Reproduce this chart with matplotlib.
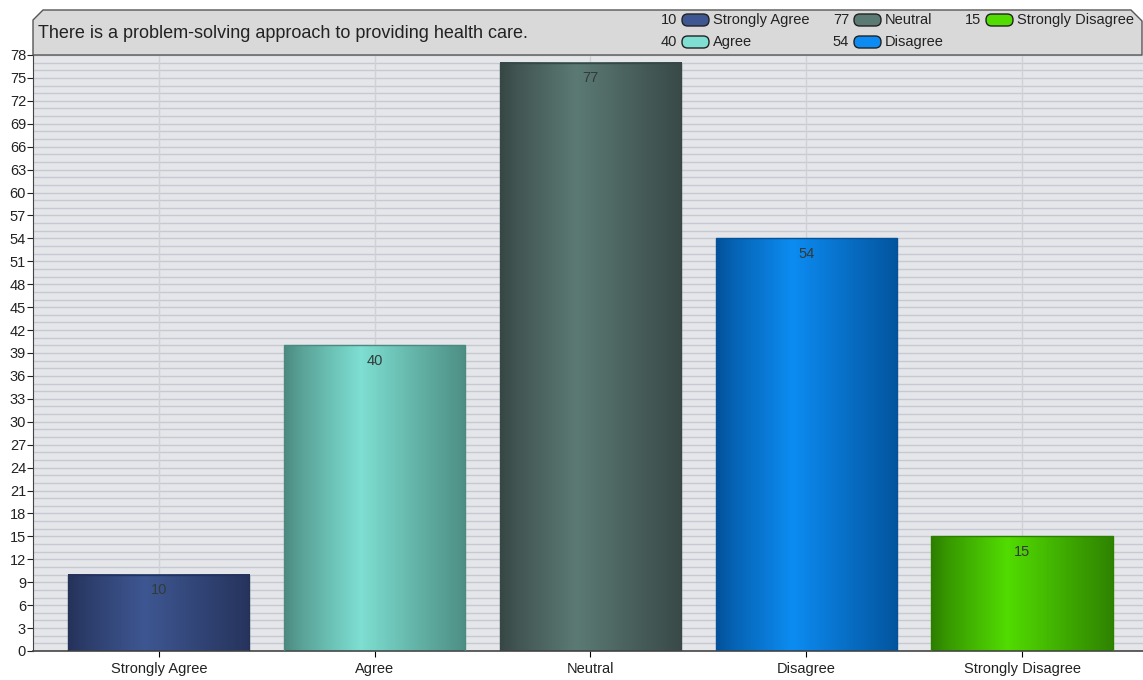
import numpy as np
import matplotlib.pyplot as plt
from matplotlib.patches import Polygon, Rectangle, FancyBboxPatch
from matplotlib.colors import to_rgb

plt.rcParams['font.family'] = ['Liberation Sans', 'DejaVu Sans']

categories = ['Strongly Agree', 'Agree', 'Neutral', 'Disagree', 'Strongly Disagree']
values = [10, 40, 77, 54, 15]
title = 'There is a problem-solving approach to providing health care.'

# edge colour, centre colour of each bar's horizontal gradient
edge_cols = ['#25325a', '#4b8a80', '#374745', '#03529a', '#2d7f00']
mid_cols = ['#3e5792', '#7edfd2', '#5c7a74', '#0c8cf2', '#52dc02']

W, H = 1143, 680
fig = plt.figure(figsize=(W / 100, H / 100), dpi=100)


def fx(px):
    return px / W


def fy(py):
    return 1 - py / H


# plot area
left, right, top, bottom = 33, 1143, 55, 651
ax = fig.add_axes([fx(left), fy(bottom), fx(right - left), fy(top) - fy(bottom)])
ax.set_facecolor('#e4e6ea')
ax.set_ylim(0, 78)
ax.set_xlim(-0.583, 4.56)

# horizontal minor lines every unit, vertical lines at categories
for v in range(0, 79):
    ax.axhline(v, color='#c6c9d1', lw=1.0, zorder=0)
for i in range(len(categories)):
    ax.axvline(i, color='#cfd1d6', lw=1.0, zorder=0)

bar_w = 0.84
prof_x = np.linspace(0, 1, 200)
# brightness profile: dark edges, peak a bit left of centre
prof = np.interp(prof_x, [0, 0.1, 0.42, 0.75, 1], [0.0, 0.3, 1.0, 0.45, 0.05])
for i, (v, ec, mc) in enumerate(zip(values, edge_cols, mid_cols)):
    e = np.array(to_rgb(ec))
    m = np.array(to_rgb(mc))
    img = e[None, :] + prof[:, None] * (m - e)[None, :]
    ax.imshow(img[None, :, :], extent=[i - bar_w / 2, i + bar_w / 2, 0, v],
              aspect='auto', zorder=2, interpolation='bilinear')
    ax.add_patch(Rectangle((i - bar_w / 2, 0), bar_w, v, fill=False,
                           edgecolor=ec, lw=1.0, zorder=3))
    ax.text(i, v - 1.1, str(v), ha='center', va='top', fontsize=10.5,
            color='#333a3a', zorder=4)

ax.set_xticks(range(len(categories)))
ax.set_xticklabels(categories, fontsize=10.5, color='#222222')
ax.set_yticks(range(0, 79, 3))
ax.tick_params(axis='y', labelsize=10.5, length=4, pad=1, colors='#222222')
ax.tick_params(axis='x', length=4, pad=4)
for s in ['top', 'right']:
    ax.spines[s].set_visible(False)
ax.spines['left'].set_color('#444444')
ax.spines['bottom'].set_color('#444444')
ax.spines['bottom'].set_linewidth(1.2)

# header box with chamfered top corners
hdr = [(fx(33), fy(55)), (fx(33), fy(20)), (fx(43), fy(10)), (fx(1131), fy(10)),
       (fx(1142), fy(21)), (fx(1142), fy(55))]
fig.patches.append(Polygon(hdr, closed=True, transform=fig.transFigure,
                           facecolor='#d9d9d9', edgecolor='#555555', lw=1.0))
fig.text(fx(38), fy(33), title, fontsize=13, color='#222222', va='center', ha='left')

# legend
leg_pos = [(677, 20), (677, 42), (849, 20), (849, 42), (981, 20)]
for (lx, ly), c, ec, mc, v in zip(leg_pos, categories, edge_cols, mid_cols, values):
    fig.text(fx(lx), fy(ly), str(v), fontsize=10.5, color='#222222',
             ha='right', va='center')
    pill = FancyBboxPatch((fx(lx + 5), fy(ly + 6)), fx(27), fy(0) - fy(12),
                          boxstyle='round,pad=0,rounding_size=0.005',
                          transform=fig.transFigure, facecolor=mc,
                          edgecolor='#222222', lw=1.0, mutation_aspect=1.7)
    fig.patches.append(pill)
    fig.text(fx(lx + 36), fy(ly), c, fontsize=10.5, color='#222222',
             ha='left', va='center')

fig.savefig('out.png', dpi=100)
